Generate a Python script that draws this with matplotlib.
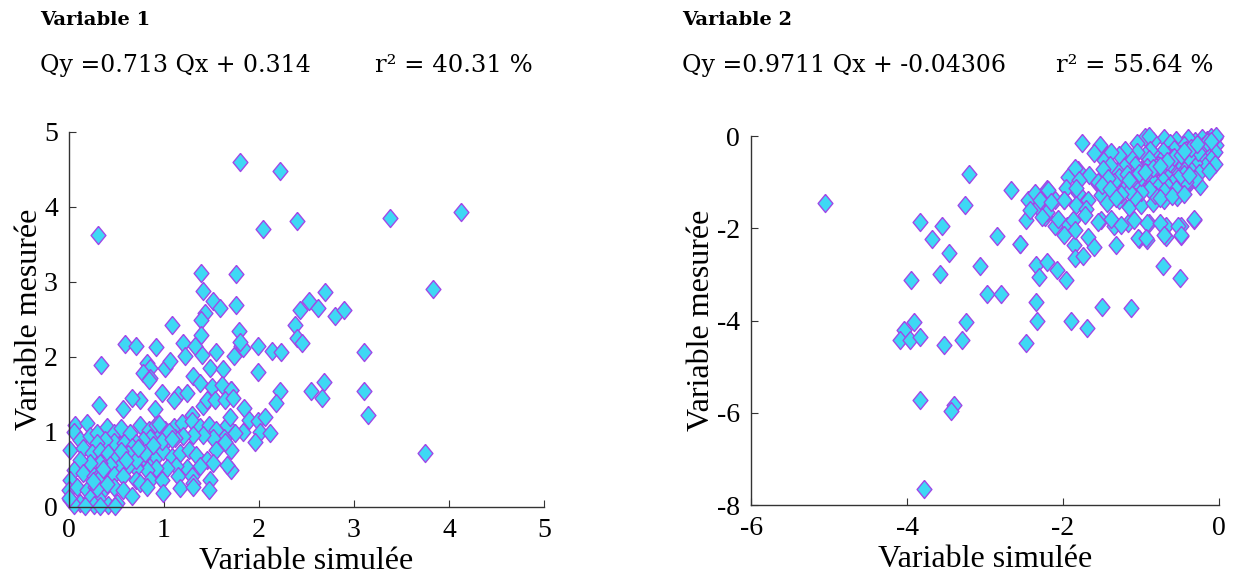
import matplotlib
matplotlib.use("Agg")
import matplotlib.pyplot as plt

plt.rcParams["axes.unicode_minus"] = False

# ---- data : variable 1 (simulee, mesuree) ----
x1 = [0.31, 1.80, 2.22, 2.04, 2.40, 3.38, 4.13, 3.83,
      1.39, 1.76, 1.41, 1.52, 1.59, 1.76, 1.43, 1.39, 1.08, 1.39, 1.79,
      0.59, 0.71, 0.92, 1.20, 1.33, 1.40, 1.22, 1.55, 1.74, 1.81, 1.83, 1.80, 1.99, 2.14, 2.23,
      2.38, 2.40, 2.45, 2.43, 2.53, 2.62, 2.69, 2.80, 2.89,
      0.34, 0.82, 0.85, 0.78, 0.85, 1.01, 1.06, 1.48, 1.62, 1.31, 1.99, 2.68, 2.22, 2.55, 2.66, 2.18,
      3.11, 3.10, 3.15, 3.75, 1.71,
      1.84, 1.89, 1.83, 1.99, 2.06, 2.01, 1.96, 2.12, 1.70, 1.70,
      # dense part
      0.84, 0.98, 1.15, 1.24, 1.38, 1.50, 1.61, 1.71, 1.29, 1.41, 1.45, 1.54, 1.64, 1.73,
      1.10, 0.75, 0.66, 0.57, 0.32, 0.91,
      0.06, 0.19, 0.05, 0.12, 0.22, 0.29, 0.40, 0.47, 0.55, 0.64, 0.75, 0.84, 0.92, 1.01,
      1.10, 1.19, 1.29, 1.38, 1.47, 1.55, 1.66, 1.69, 1.75, 1.63, 1.52, 1.41, 1.31, 1.20,
      1.12, 1.03, 0.94, 0.85, 0.78, 0.70, 0.61, 0.54, 0.47, 0.38, 0.29,
      0.01, 0.15, 0.24, 0.33, 0.41, 0.50, 0.59, 0.66, 0.75, 0.84, 0.92, 0.99, 1.08, 1.17,
      1.26, 1.34, 1.45, 1.55, 1.64, 1.66, 1.52, 1.38, 1.24, 1.13, 1.03, 0.92, 0.82, 0.71,
      0.62, 0.54, 0.43, 0.33, 0.22, 0.12, 0.05, 0.15, 0.26, 0.36, 0.47, 0.57, 0.71, 0.85,
      0.98, 1.15, 1.29, 1.48, 1.31,
      0.01, 0.00, 0.08, 0.19, 0.27, 0.36, 0.47, 0.57, 0.66, 0.75, 0.82, 0.99, 1.17, 1.31,
      1.47, 0.01, 0.12, 0.22, 0.33, 0.41, 0.50, 0.26, 0.05, 0.17, 0.33, 0.48, 0.00,
      # overlapping core
      0.61, 0.64, 0.68, 0.72, 0.58, 0.78, 0.30, 0.32, 0.28, 0.34, 0.31, 1.02, 0.98, 0.66,
      0.62, 0.55, 0.70, 0.29, 0.36, 0.25, 0.80, 0.88, 1.05, 1.08, 0.95, 0.60, 0.73, 0.40]
y1 = [3.63, 4.60, 4.48, 3.70, 3.81, 3.85, 3.93, 2.91,
      3.12, 3.11, 2.88, 2.74, 2.65, 2.69, 2.59, 2.49, 2.43, 2.29, 2.34,
      2.17, 2.14, 2.13, 2.19, 2.15, 2.03, 2.01, 2.06, 2.01, 2.14, 2.12, 2.20, 2.15, 2.08, 2.06,
      2.43, 2.25, 2.18, 2.63, 2.75, 2.65, 2.86, 2.54, 2.62,
      1.89, 1.92, 1.85, 1.78, 1.72, 1.85, 1.94, 1.85, 1.84, 1.75, 1.80, 1.67, 1.55, 1.54, 1.45, 1.38,
      2.07, 1.54, 1.23, 0.72, 1.56,
      1.32, 1.16, 1.00, 1.14, 1.20, 1.00, 0.87, 0.98, 0.76, 0.49,
      # dense part
      1.69, 1.52, 1.49, 1.52, 1.65, 1.60, 1.63, 1.56, 1.23, 1.34, 1.43, 1.43, 1.43, 1.45,
      1.43, 1.43, 1.45, 1.30, 1.36, 1.30,
      1.09, 1.12, 1.00, 0.89, 0.94, 0.98, 1.07, 0.98, 1.05, 0.98, 1.09, 1.03, 1.09, 1.03,
      1.07, 1.12, 1.14, 1.07, 1.09, 1.03, 1.09, 1.20, 0.98, 0.92, 0.92, 0.96, 0.96, 0.94,
      0.92, 0.89, 0.92, 0.92, 0.89, 0.85, 0.80, 0.83, 0.87, 0.89, 0.85,
      0.76, 0.78, 0.72, 0.74, 0.72, 0.67, 0.74, 0.67, 0.65, 0.61, 0.67, 0.74, 0.67, 0.72,
      0.76, 0.69, 0.63, 0.76, 0.87, 0.56, 0.58, 0.54, 0.52, 0.54, 0.52, 0.52, 0.49, 0.52,
      0.54, 0.54, 0.56, 0.58, 0.58, 0.63, 0.49, 0.45, 0.41, 0.38, 0.43, 0.41, 0.36, 0.36,
      0.36, 0.41, 0.41, 0.36, 0.32,
      0.36, 0.23, 0.27, 0.23, 0.27, 0.23, 0.27, 0.23, 0.14, 0.32, 0.27, 0.18, 0.25, 0.27,
      0.23, 0.09, 0.05, 0.12, 0.09, 0.03, 0.05, 0.03, 0.03, 0.01, 0.01, 0.01, 0.12,
      # overlapping core
      0.80, 0.76, 0.72, 0.70, 0.85, 0.66, 0.40, 0.32, 0.30, 0.45, 0.36, 0.95, 0.88, 0.80,
      0.70, 0.75, 0.62, 0.25, 0.50, 0.35, 0.72, 0.82, 1.00, 0.90, 1.10, 0.62, 0.78, 0.30]

# ---- data : variable 2 ----
x2 = [-5.05, -3.83, -3.55, -3.68, -3.46, -3.58, -3.95, -3.20, -3.26, -3.06, -2.85, -2.97, -2.79,
      -3.91, -4.04, -4.09, -3.96, -3.84, -3.24, -3.52, -3.29, -3.84, -3.40, -3.44, -3.78,
      -1.75, -2.67, -2.47, -2.20, -2.55, -2.34, -2.20, -2.08, -1.96, -2.31, -2.34, -2.33,
      -1.89, -1.69, -1.50, -1.12, -2.48, -0.71, -0.50, -0.32, -0.24, -0.37,
      -0.68, -0.49, -0.49, -0.68, -0.90, -1.02, -0.92,
      -1.32, -1.17, -1.34, -1.51, -1.68, -1.60, -1.86, -1.85, -1.74, -1.95, -2.10, -2.23,
      -2.45, -2.32, -2.21, -2.36, -1.94, -1.81, -1.66, -1.96, -1.81, -1.68, -1.55, -1.98, -2.10,
      -1.53, -1.43, -1.60, -1.47, -1.84, -1.79, -1.55, -2.19, -1.83, -1.51, -1.34,
      -2.30, -2.15, -1.98, -1.83, -1.71, -1.43, -1.28, -1.15, -1.00, -0.85, -0.70, -0.53,
      -0.39, -0.15, -0.07,
      -2.42, -2.27, -2.06, -1.87, -1.72, -1.55, -1.38, -1.26, -1.09, -0.92, -0.75, -0.52,
      -0.32, -1.04, -0.94, -0.70, -0.49, -2.55, -1.98, -1.85,
      # dense corner
      -0.05, -0.10, -0.15, -0.22, -0.30, -0.08, -0.18, -0.40, -0.55, -0.70, -0.62, -0.85,
      -0.95, -1.05, -0.45, -0.25, -0.12, -0.03, -0.90, -0.03,
      -0.05, -0.15, -0.28, -0.35, -0.42, -0.50, -0.58, -0.65, -0.72, -0.80, -0.88, -0.95,
      -1.05, -1.12, -1.20, -1.28, -1.38, -0.22, -0.10, -0.45, -0.60, -0.75, -0.90,
      -0.05, -0.18, -0.30, -0.38, -0.48, -0.55, -0.62, -0.70, -0.78, -0.85, -0.92, -1.00,
      -1.08, -1.15, -1.22, -1.30, -1.40, -1.48, -0.25, -0.12, -0.45, -0.68,
      -0.30, -0.42, -0.52, -0.60, -0.72, -0.80, -0.88, -0.98, -1.05, -1.12, -1.20, -1.28,
      -1.35, -1.42, -1.50, -0.95, -0.65, -1.18, -0.38,
      -0.55, -0.70, -0.82, -0.90, -1.00, -1.08, -1.15, -1.25, -1.40, -1.32, -0.75, -0.60, -0.45,
      -0.32, -0.20, -0.52, -0.70, -0.92, -1.10, -0.26, -0.40, -0.62, -0.80, -1.00, -0.15,
      -0.35, -0.58, -0.85, -1.02, -0.48, -0.66, -0.76, -0.95, -1.15, -0.10, -0.28, -0.44]
y2 = [-1.46, -1.86, -1.95, -2.24, -2.53, -2.99, -3.11, -0.83, -1.50, -2.82, -2.17, -3.42, -3.42,
      -4.03, -4.21, -4.42, -4.42, -4.35, -4.03, -4.53, -4.42, -5.73, -5.82, -5.95, -7.66,
      -0.14, -1.17, -1.81, -1.15, -2.34, -2.79, -2.74, -2.90, -3.12, -3.05, -3.59, -4.00,
      -4.00, -4.15, -3.71, -3.73, -4.49, -2.82, -3.08, -1.81, -1.08, -0.99,
      -1.95, -1.95, -2.16, -2.18, -1.89, -2.24, -2.25,
      -2.36, -1.89, -1.96, -1.82, -2.18, -2.40, -2.36, -2.65, -2.61, -1.96, -1.96, -1.75,
      -1.39, -1.53, -1.64, -1.24, -0.88, -0.74, -0.85, -1.13, -1.24, -1.39, -1.03, -1.39, -1.39,
      -0.19, -0.41, -0.37, -0.52, -0.70, -0.95, -0.99, -1.17, -1.13, -1.28, -1.21,
      -1.39, -1.43, -1.39, -1.50, -1.57, -1.46, -1.39, -1.53, -1.50, -1.46, -1.39, -1.32,
      -0.99, -0.59, -0.38,
      -1.61, -1.75, -1.79, -1.82, -1.71, -1.86, -1.79, -1.93, -1.82, -1.89, -1.89, -1.96,
      -1.79, -2.22, -2.22, -2.14, -2.14, -2.33, -2.14, -2.03,
      # dense corner
      -0.05, -0.02, -0.08, -0.04, -0.10, -0.15, -0.18, -0.05, -0.08, -0.05, -0.15, -0.10,
      -0.02, -0.15, -0.20, -0.22, -0.28, -0.20, 0.00, 0.00,
      -0.35, -0.40, -0.32, -0.42, -0.30, -0.38, -0.28, -0.40, -0.32, -0.45, -0.30, -0.42,
      -0.35, -0.48, -0.30, -0.42, -0.35, -0.48, -0.50, -0.50, -0.48, -0.55, -0.50,
      -0.60, -0.65, -0.58, -0.70, -0.62, -0.75, -0.65, -0.72, -0.62, -0.78, -0.66, -0.74,
      -0.62, -0.78, -0.66, -0.75, -0.62, -0.72, -0.80, -0.75, -0.82, -0.85,
      -0.92, -1.00, -0.90, -1.02, -0.95, -1.05, -0.90, -0.98, -1.08, -0.92, -1.02, -0.88,
      -1.00, -0.90, -1.05, -0.85, -1.10, -0.82, -0.85,
      -1.15, -1.20, -1.28, -1.15, -1.22, -1.32, -1.18, -1.25, -1.15, -1.35, -1.35, -1.30, -1.25,
      -0.30, -0.22, -0.52, -0.60, -0.80, -0.90, -0.35, -0.45, -0.58, -0.68, -0.88, -0.12,
      -0.25, -0.45, -0.70, -0.80, -0.40, -0.55, -0.65, -0.78, -0.95, -0.10, -0.18, -0.32]

titles = ["Variable 1", "Variable 2"]
equations = ["Qy =0.713 Qx + 0.314", "Qy =0.9711 Qx + -0.04306"]
r2_texts = ["r² = 40.31 %", "r² = 55.64 %"]

serif = "Liberation Serif"
fill = "#3ED8F4"
edge = "#A048E8"

fig = plt.figure(figsize=(12.5, 5.84), dpi=100)
ax1 = fig.add_axes([0.0552, 0.132, 0.380, 0.642])
ax2 = fig.add_axes([0.601, 0.135, 0.374, 0.632])

diamond = [(0, 1), (0.82, 0), (0, -1), (-0.82, 0), (0, 1)]

for ax, xs, ys in [(ax1, x1, y1), (ax2, x2, y2)]:
    ax.plot(xs, ys, linestyle="none", marker=diamond, ms=13,
            mfc=fill, mec=edge, mew=1.0, clip_on=False)
    for side in ["top", "right"]:
        ax.spines[side].set_visible(False)
    for side in ["left", "bottom"]:
        ax.spines[side].set_color("#333333")
        ax.spines[side].set_linewidth(1.0)
    ax.tick_params(direction="in", length=5, width=0.8, color="#333333",
                   labelsize=20, pad=8)
    ax.set_xlabel("Variable simulée", fontsize=23, family=serif, labelpad=3)

ax1.set_ylabel("Variable mesurée", fontsize=23, family=serif, labelpad=0)
ax2.set_ylabel("Variable mesurée", fontsize=23, family=serif, labelpad=1)

ax1.set_xlim(0, 5)
ax1.set_ylim(0, 5)
ax1.set_xticks([0, 1, 2, 3, 4, 5])
ax1.set_yticks([0, 1, 2, 3, 4, 5])
ax2.set_xlim(-6, 0)
ax2.set_ylim(-8, 0)
ax2.set_xticks([-6, -4, -2, 0])
ax2.set_yticks([-8, -6, -4, -2, 0])
for ax in (ax1, ax2):
    for lab in ax.get_xticklabels() + ax.get_yticklabels():
        lab.set_fontfamily(serif)
        lab.set_fontsize(20)

# titles and regression text
fig.text(0.032, 0.965, titles[0], fontsize=14, family="DejaVu Serif",
         weight="bold", va="center")
fig.text(0.032, 0.888, equations[0], fontsize=17, family="DejaVu Serif", va="center")
fig.text(0.300, 0.888, r2_texts[0], fontsize=17.5, family="DejaVu Serif", va="center")
fig.text(0.546, 0.965, titles[1], fontsize=14, family="DejaVu Serif",
         weight="bold", va="center")
fig.text(0.546, 0.888, equations[1], fontsize=17, family="DejaVu Serif", va="center")
fig.text(0.845, 0.888, r2_texts[1], fontsize=17.5, family="DejaVu Serif", va="center")

fig.savefig("out.png", dpi=100)
